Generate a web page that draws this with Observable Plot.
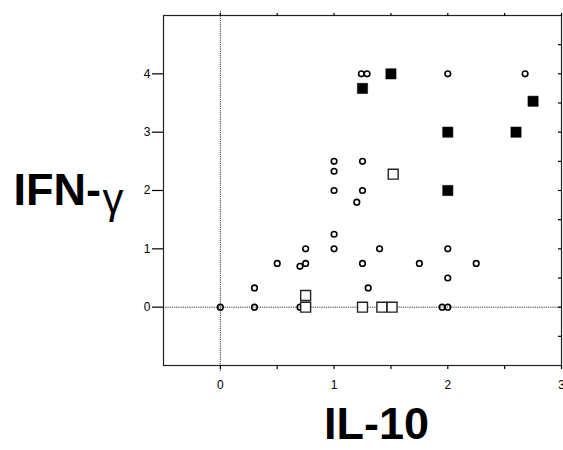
<!DOCTYPE html>
<html>
<head>
<meta charset="utf-8">
<script src="https://cdn.jsdelivr.net/npm/d3@7"></script>
<script src="https://cdn.jsdelivr.net/npm/@observablehq/plot@0.6"></script>
<style>
  html, body { margin: 0; padding: 0; background: white; }
</style>
</head>
<body>
<div id="chart"></div>
<script>
// Open circles
const circleX = [0, 0.3, 0.3, 0.5, 0.7, 0.7, 0.75, 0.75, 1, 1, 1, 1, 1, 1.2, 1.25, 1.25, 1.25, 1.24, 1.29, 1.3, 1.4, 1.75, 1.95, 2, 2, 2, 2, 2.25, 2.68];
const circleY = [0, 0, 0.33, 0.75, 0.7, 0, 0.75, 1, 2.5, 2.33, 2, 1.25, 1, 1.8, 2.5, 2, 0.75, 4, 4, 0.33, 1, 0.75, 0, 0, 0.5, 1, 4, 0.75, 4];
// Open squares
const openSqX = [0.75, 0.75, 1.25, 1.42, 1.51, 1.52];
const openSqY = [0, 0.2, 0, 0, 0, 2.28];
// Filled squares
const fillSqX = [1.25, 1.5, 2, 2, 2.6, 2.75];
const fillSqY = [3.75, 4, 3, 2, 3, 3.53];

const xTicks = [0, 0.5, 1, 1.5, 2, 2.5, 3];
const xTickLabels = [0, 1, 2, 3];
const yTicks = [0, 1, 2, 3, 4];
const yHalfTicks = [-0.5, 0, 0.5, 1, 1.5, 2, 2.5, 3, 3.5, 4, 4.5];
const xLabel = "IL-10";
const yLabelMain = "IFN-";
const yLabelGreek = "γ";

const circles = circleX.map((x, i) => ({x, y: circleY[i]}));
const openSq = openSqX.map((x, i) => ({x, y: openSqY[i]}));
const fillSq = fillSqX.map((x, i) => ({x, y: fillSqY[i]}));

const chart = Plot.plot({
  width: 563,
  height: 450,
  marginLeft: 163,
  marginRight: 2,
  marginTop: 15,
  marginBottom: 85,
  style: {background: "white", fontFamily: "'Liberation Sans', Arial, sans-serif", color: "black"},
  x: {domain: [-0.5, 3]},
  y: {domain: [-1, 5]},
  marks: [
    Plot.ruleX([0], {stroke: "#333", strokeWidth: 1, strokeDasharray: "1.2,1", insetTop: -4, insetBottom: -6}),
    Plot.ruleY([0], {stroke: "#333", strokeWidth: 1, strokeDasharray: "1.2,1"}),
    Plot.frame({stroke: "#222", strokeWidth: 1.2}),
    Plot.axisX({anchor: "bottom", ticks: xTicks, tickSize: 4, tickPadding: 11, fontSize: 12, label: null,
      stroke: "black", strokeWidth: 1.2, fill: "black",
      tickFormat: d => xTickLabels.includes(d) ? String(d) : ""}),
    Plot.axisX({anchor: "top", ticks: xTicks, tickSize: 3, label: null, stroke: "black", strokeWidth: 1.2, tickFormat: () => ""}),
    Plot.axisY({anchor: "left", ticks: yTicks, tickSize: 11, tickPadding: 2, fontSize: 12, label: null,
      stroke: "black", strokeWidth: 1.2, fill: "black", tickFormat: d => String(d)}),
    Plot.axisY({anchor: "right", ticks: yHalfTicks, tickSize: 4, dx: -4, label: null, stroke: "black", strokeWidth: 1.2, tickFormat: () => ""}),
    Plot.dot(circles, {x: "x", y: "y", r: 2.8, stroke: "black", strokeWidth: 1.6, fill: "none"}),
    Plot.dot(openSq, {x: "x", y: "y", symbol: "square", r: 5.6, stroke: "#222", strokeWidth: 1.4, fill: "white"}),
    Plot.dot(fillSq, {x: "x", y: "y", symbol: "square", r: 5.8, stroke: "black", strokeWidth: 0.5, fill: "black"}),
    Plot.text([xLabel], {frameAnchor: "top", lineAnchor: "top", textAnchor: "middle", dx: 14, dy: 392,
      fontSize: 45, fontWeight: "bold", fill: "black"}),
    Plot.text([yLabelMain], {frameAnchor: "top-left", lineAnchor: "top", textAnchor: "start", dx: -150, dy: 158,
      fontSize: 45, fontWeight: "bold", fill: "black"}),
    Plot.text([yLabelGreek], {frameAnchor: "top-left", lineAnchor: "top", textAnchor: "start", dx: -61, dy: 168,
      fontSize: 42, fontWeight: "normal", fill: "black"})
  ]
});
document.getElementById("chart").appendChild(chart);
</script>
</body>
</html>
